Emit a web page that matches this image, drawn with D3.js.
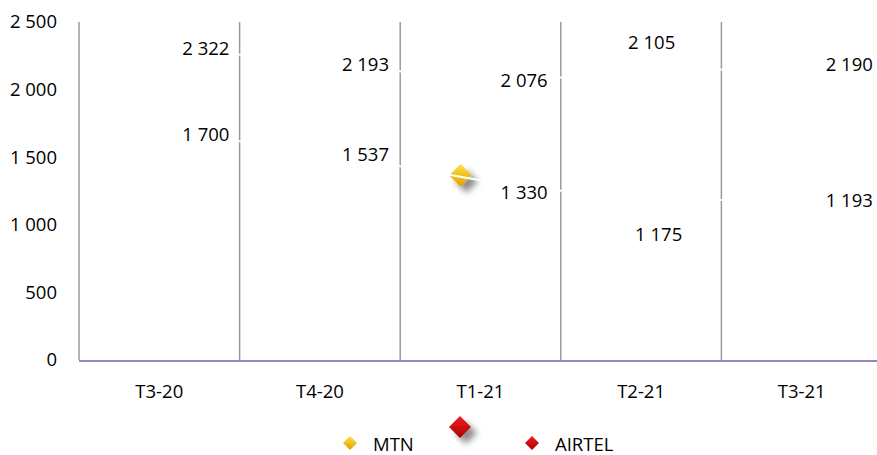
<!DOCTYPE html>
<html>
<head>
<meta charset="utf-8">
<script src="https://cdn.jsdelivr.net/npm/d3@7"></script>
<style>
  body { margin: 0; background: #fff; }
  text { font-family: "Open Sans", sans-serif; font-size: 18.5px; fill: #000; }
</style>
</head>
<body>
<div id="chart"></div>
<script>
/////////// DATOS /////////
var trimestres = ["T3-20", "T4-20", "T1-21", "T2-21", "T3-21"];
var mtn = [2322, 2193, 2076, 2105, 2190];
var airtel = [1700, 1537, 1330, 1175, 1193];
var ticksY = [0, 500, 1000, 1500, 2000, 2500];
var series = ["MTN", "AIRTEL"];

// placement of the value labels (offset from the point, in px)
var posMtn = [[23, 1], [22, 0], [20, 0], [-13, -34], [24, 0]];
var posAirtel = [[23, 3], [22, 1], [20, 11], [-6, 32], [24, 1]];

var W = 877, H = 455;
var margin = {top: 22, right: -5, bottom: 95, left: 79};
var width = W - margin.left - margin.right,
    height = H - margin.top - margin.bottom;

var svg = d3.select("#chart").append("svg")
  .attr("width", W)
  .attr("height", H);

// sombra para los rombos
var defs = svg.append("defs");
var f = defs.append("filter").attr("id", "sombra")
  .attr("x", "-50%").attr("y", "-50%").attr("width", "250%").attr("height", "250%");
f.append("feDropShadow").attr("dx", 6).attr("dy", 6).attr("stdDeviation", 3)
  .attr("flood-color", "#000").attr("flood-opacity", 0.45);

function grad(id, c1, c2) {
  var g = defs.append("linearGradient").attr("id", id)
    .attr("x1", 0).attr("y1", 0).attr("x2", 0).attr("y2", 1);
  g.append("stop").attr("offset", "0%").attr("stop-color", c1);
  g.append("stop").attr("offset", "100%").attr("stop-color", c2);
}
grad("amarillo", "#ffe040", "#e0a000");
grad("rojo", "#f02020", "#a80000");

var g = svg.append("g")
  .attr("transform", "translate(" + margin.left + "," + margin.top + ")");

/////////// ESCALAS /////////
var x = d3.scaleBand().domain(trimestres).range([0, width]);
var y = d3.scaleLinear().domain([0, 2500]).range([height, 0]);

var loc = d3.formatLocale({decimal: ",", thousands: " ", grouping: [3], currency: ["", ""]});
var fmt = loc.format(",");

/////////// GRID VERTICAL /////////
var bordes = d3.range(trimestres.length + 1).map(function(i) { return i * x.bandwidth(); });
g.selectAll(".grid")
  .data(bordes)
  .enter().append("line")
  .attr("x1", function(d) { return d; })
  .attr("x2", function(d) { return d; })
  .attr("y1", 0)
  .attr("y2", height)
  .attr("stroke", "#9a9a9a")
  .attr("stroke-width", 1.5);

/////////// EJE Y /////////
var ejeY = g.append("g")
  .call(d3.axisLeft(y).tickValues(ticksY).tickSize(0).tickPadding(22).tickFormat(fmt));
ejeY.select(".domain").remove();
ejeY.selectAll("text").style("font-size", "18.5px").attr("font-family", "Open Sans");

/////////// ROMBO SUELTO (artefacto) /////////
function rombo(s) { return d3.symbol().type(d3.symbolDiamond2).size(s)(); }
g.append("path")
  .attr("d", rombo(330))
  .attr("transform", "translate(" + (x("T1-21") + x.bandwidth() / 2 - 20) + "," + y(1365) + ")")
  .attr("fill", "url(#amarillo)")
  .attr("filter", "url(#sombra)");

/////////// LINEAS (blancas) /////////
var linea = d3.line()
  .x(function(d, i) { return x(trimestres[i]) + x.bandwidth() / 2; })
  .y(function(d) { return y(d); });

[mtn, airtel].forEach(function(s) {
  g.append("path")
    .datum(s)
    .attr("fill", "none")
    .attr("stroke", "#fff")
    .attr("stroke-width", 2)
    .attr("d", linea);
});

/////////// EJE X /////////
g.append("line")
  .attr("x1", 0).attr("x2", width + 10)
  .attr("y1", height + 1).attr("y2", height + 1)
  .attr("stroke", "#9c84c2")
  .attr("stroke-width", 2);

g.selectAll(".cat")
  .data(trimestres)
  .enter().append("text")
  .attr("x", function(d) { return x(d) + x.bandwidth() / 2; })
  .attr("y", height + 30)
  .attr("text-anchor", "middle")
  .attr("dominant-baseline", "central")
  .text(function(d) { return d; });

/////////// ETIQUETAS /////////
function etiquetas(s, pos) {
  g.selectAll(null)
    .data(s)
    .enter().append("text")
    .attr("x", function(d, i) { return x(trimestres[i]) + x.bandwidth() / 2 + pos[i][0]; })
    .attr("y", function(d, i) { return y(d) + pos[i][1]; })
    .attr("dominant-baseline", "central")
    .text(function(d) { return fmt(d); });
}
etiquetas(mtn, posMtn);
etiquetas(airtel, posAirtel);

/////////// LEYENDA /////////
var colores = ["url(#amarillo)", "url(#rojo)"];
var legX = [350, 532];
var ley = svg.append("g");
series.forEach(function(s, i) {
  ley.append("path")
    .attr("d", rombo(125))
    .attr("transform", "translate(" + legX[i] + ",443)")
    .attr("fill", colores[i]);
  ley.append("text")
    .attr("x", legX[i] + 23)
    .attr("y", 443)
    .attr("dominant-baseline", "central")
    .text(s);
});
// rombo rojo grande junto a la leyenda
ley.append("path")
  .attr("d", rombo(310))
  .attr("transform", "translate(460,427)")
  .attr("fill", "url(#rojo)")
  .attr("filter", "url(#sombra)");
</script>
</body>
</html>
